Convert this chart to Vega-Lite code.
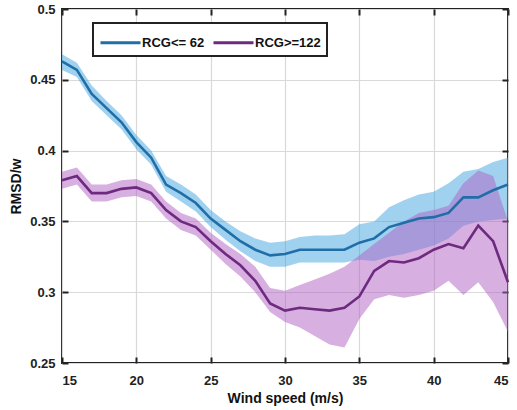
{
  "$schema": "https://vega.github.io/schema/vega-lite/v6.json",
  "width": 446,
  "height": 354,
  "autosize": "none",
  "padding": {"left": 62, "top": 9, "right": 9, "bottom": 47},
  "background": "white",
  "config": {
    "view": {"stroke": "#222", "strokeWidth": 2},
    "axis": {
      "labelFont": "Liberation Sans",
      "labelFontWeight": "bold",
      "labelFontSize": 13,
      "labelColor": "#222",
      "titleFont": "Liberation Sans",
      "titleFontWeight": "bold",
      "titleFontSize": 14,
      "titleColor": "#111",
      "gridColor": "#d9d9d9",
      "gridWidth": 1.2,
      "tickColor": "#222",
      "tickWidth": 2,
      "tickSize": -6,
      "domain": false
    }
  },
  "data": {
    "values": [
      {"x":15,"s":"RCG<= 62","m":0.463,"lo":0.457,"hi":0.468},
      {"x":16,"s":"RCG<= 62","m":0.457,"lo":0.452,"hi":0.462},
      {"x":17,"s":"RCG<= 62","m":0.440,"lo":0.435,"hi":0.446},
      {"x":18,"s":"RCG<= 62","m":0.430,"lo":0.425,"hi":0.435},
      {"x":19,"s":"RCG<= 62","m":0.420,"lo":0.415,"hi":0.425},
      {"x":20,"s":"RCG<= 62","m":0.406,"lo":0.401,"hi":0.411},
      {"x":21,"s":"RCG<= 62","m":0.395,"lo":0.390,"hi":0.400},
      {"x":22,"s":"RCG<= 62","m":0.376,"lo":0.371,"hi":0.382},
      {"x":23,"s":"RCG<= 62","m":0.370,"lo":0.364,"hi":0.376},
      {"x":24,"s":"RCG<= 62","m":0.363,"lo":0.357,"hi":0.369},
      {"x":25,"s":"RCG<= 62","m":0.352,"lo":0.346,"hi":0.358},
      {"x":26,"s":"RCG<= 62","m":0.344,"lo":0.337,"hi":0.350},
      {"x":27,"s":"RCG<= 62","m":0.336,"lo":0.329,"hi":0.343},
      {"x":28,"s":"RCG<= 62","m":0.330,"lo":0.322,"hi":0.338},
      {"x":29,"s":"RCG<= 62","m":0.326,"lo":0.318,"hi":0.335},
      {"x":30,"s":"RCG<= 62","m":0.327,"lo":0.318,"hi":0.336},
      {"x":31,"s":"RCG<= 62","m":0.330,"lo":0.321,"hi":0.339},
      {"x":32,"s":"RCG<= 62","m":0.330,"lo":0.321,"hi":0.340},
      {"x":33,"s":"RCG<= 62","m":0.330,"lo":0.321,"hi":0.340},
      {"x":34,"s":"RCG<= 62","m":0.330,"lo":0.321,"hi":0.341},
      {"x":35,"s":"RCG<= 62","m":0.335,"lo":0.323,"hi":0.348},
      {"x":36,"s":"RCG<= 62","m":0.338,"lo":0.322,"hi":0.350},
      {"x":37,"s":"RCG<= 62","m":0.346,"lo":0.325,"hi":0.360},
      {"x":38,"s":"RCG<= 62","m":0.349,"lo":0.327,"hi":0.365},
      {"x":39,"s":"RCG<= 62","m":0.352,"lo":0.330,"hi":0.369},
      {"x":40,"s":"RCG<= 62","m":0.353,"lo":0.333,"hi":0.371},
      {"x":41,"s":"RCG<= 62","m":0.356,"lo":0.338,"hi":0.377},
      {"x":42,"s":"RCG<= 62","m":0.367,"lo":0.347,"hi":0.385},
      {"x":43,"s":"RCG<= 62","m":0.367,"lo":0.350,"hi":0.387},
      {"x":44,"s":"RCG<= 62","m":0.372,"lo":0.351,"hi":0.392},
      {"x":45,"s":"RCG<= 62","m":0.376,"lo":0.352,"hi":0.395},
      {"x":15,"s":"RCG>=122","m":0.379,"lo":0.373,"hi":0.385},
      {"x":16,"s":"RCG>=122","m":0.382,"lo":0.376,"hi":0.388},
      {"x":17,"s":"RCG>=122","m":0.370,"lo":0.364,"hi":0.376},
      {"x":18,"s":"RCG>=122","m":0.370,"lo":0.364,"hi":0.376},
      {"x":19,"s":"RCG>=122","m":0.373,"lo":0.367,"hi":0.379},
      {"x":20,"s":"RCG>=122","m":0.374,"lo":0.368,"hi":0.380},
      {"x":21,"s":"RCG>=122","m":0.370,"lo":0.364,"hi":0.376},
      {"x":22,"s":"RCG>=122","m":0.358,"lo":0.352,"hi":0.364},
      {"x":23,"s":"RCG>=122","m":0.350,"lo":0.344,"hi":0.356},
      {"x":24,"s":"RCG>=122","m":0.346,"lo":0.340,"hi":0.352},
      {"x":25,"s":"RCG>=122","m":0.336,"lo":0.330,"hi":0.342},
      {"x":26,"s":"RCG>=122","m":0.327,"lo":0.320,"hi":0.334},
      {"x":27,"s":"RCG>=122","m":0.319,"lo":0.311,"hi":0.327},
      {"x":28,"s":"RCG>=122","m":0.308,"lo":0.300,"hi":0.318},
      {"x":29,"s":"RCG>=122","m":0.292,"lo":0.286,"hi":0.303},
      {"x":30,"s":"RCG>=122","m":0.287,"lo":0.279,"hi":0.301},
      {"x":31,"s":"RCG>=122","m":0.289,"lo":0.275,"hi":0.305},
      {"x":32,"s":"RCG>=122","m":0.288,"lo":0.269,"hi":0.309},
      {"x":33,"s":"RCG>=122","m":0.287,"lo":0.263,"hi":0.313},
      {"x":34,"s":"RCG>=122","m":0.289,"lo":0.261,"hi":0.318},
      {"x":35,"s":"RCG>=122","m":0.297,"lo":0.281,"hi":0.326},
      {"x":36,"s":"RCG>=122","m":0.315,"lo":0.295,"hi":0.334},
      {"x":37,"s":"RCG>=122","m":0.322,"lo":0.298,"hi":0.342},
      {"x":38,"s":"RCG>=122","m":0.321,"lo":0.296,"hi":0.350},
      {"x":39,"s":"RCG>=122","m":0.324,"lo":0.298,"hi":0.356},
      {"x":40,"s":"RCG>=122","m":0.330,"lo":0.301,"hi":0.358},
      {"x":41,"s":"RCG>=122","m":0.334,"lo":0.308,"hi":0.361},
      {"x":42,"s":"RCG>=122","m":0.331,"lo":0.298,"hi":0.377},
      {"x":43,"s":"RCG>=122","m":0.347,"lo":0.307,"hi":0.386},
      {"x":44,"s":"RCG>=122","m":0.336,"lo":0.293,"hi":0.382},
      {"x":45,"s":"RCG>=122","m":0.307,"lo":0.272,"hi":0.350}
    ]
  },
  "layer": [
    {
      "transform": [{"filter": "datum.s === 'RCG<= 62'"}],
      "mark": {"type": "area", "fill": "#41a5e1", "fillOpacity": 0.5},
      "encoding": {
        "x": {"field": "x", "type": "quantitative",
              "scale": {"domain": [15, 45], "nice": false, "zero": false},
              "axis": {"values": [15,20,25,30,35,40,45], "title": "Wind speed (m/s)", "labelPadding": 17, "titlePadding": 4, "grid": true}},
        "y": {"field": "lo", "type": "quantitative",
              "scale": {"domain": [0.25, 0.5], "nice": false, "zero": false},
              "axis": {"values": [0.25,0.3,0.35,0.4,0.45,0.5], "format": "~g", "title": "RMSD/w", "labelPadding": 13, "titlePadding": 6, "grid": true}},
        "y2": {"field": "hi"}
      }
    },
    {
      "transform": [{"filter": "datum.s === 'RCG>=122'"}],
      "mark": {"type": "area", "fill": "#af5fc3", "fillOpacity": 0.5},
      "encoding": {
        "x": {"field": "x", "type": "quantitative", "axis": null},
        "y": {"field": "lo", "type": "quantitative", "axis": null},
        "y2": {"field": "hi"}
      }
    },
    {
      "mark": {"type": "line", "strokeWidth": 2.6},
      "encoding": {
        "x": {"field": "x", "type": "quantitative", "axis": null},
        "y": {"field": "m", "type": "quantitative", "axis": null},
        "color": {
          "field": "s", "type": "nominal",
          "scale": {"domain": ["RCG<= 62", "RCG>=122"], "range": ["#1f6ea8", "#6e2a7e"]},
          "legend": {
            "title": null,
            "orient": "none",
            "legendX": 31,
            "legendY": 14,
            "direction": "horizontal",
            "fillColor": "white",
            "strokeColor": "#222",
            "padding": 6,
            "symbolType": "M-1.667,0L1.667,0",
            "symbolSize": 576,
            "symbolStrokeWidth": 3,
            "symbolOffset": 8,
            "labelOffset": 8,
            "columnPadding": 2,
            "labelFont": "Liberation Sans",
            "labelFontWeight": "bold",
            "labelFontSize": 13,
            "labelColor": "#111",
            "encode": {"legend": {"update": {"strokeWidth": {"value": 2}}}}
          }
        }
      }
    },
    {
      "mark": {"type": "point", "opacity": 0},
      "encoding": {
        "x": {"field": "x", "type": "quantitative",
              "axis": {"orient": "top", "values": [15,20,25,30,35,40,45], "labels": false, "title": null, "grid": false}},
        "y": {"field": "m", "type": "quantitative",
              "axis": {"orient": "right", "values": [0.25,0.3,0.35,0.4,0.45,0.5], "labels": false, "title": null, "grid": false}}
      }
    }
  ],
  "resolve": {"axis": {"x": "independent", "y": "independent"}}
}
